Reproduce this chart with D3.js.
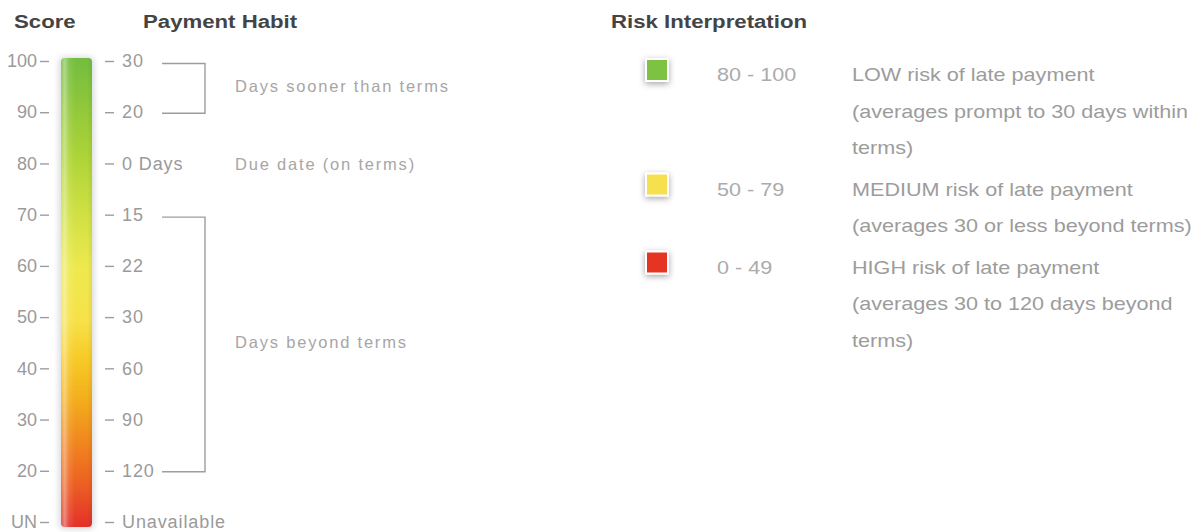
<!DOCTYPE html>
<html>
<head>
<meta charset="utf-8">
<script src="https://cdn.jsdelivr.net/npm/d3@7/dist/d3.min.js"></script>
<style>
  html, body { margin: 0; padding: 0; background: #fff; }
  svg { display: block; font-family: "Liberation Sans", Arial, Helvetica, sans-serif; }
</style>
</head>
<body>
<svg id="chart" width="1202" height="532"></svg>
<script>
// ---------- data ----------
const scoreLabels = ["100", "90", "80", "70", "60", "50", "40", "30", "20", "UN"];
const habitLabels = ["30", "20", "0 Days", "15", "22", "30", "60", "90", "120", "Unavailable"];
// brackets: [start index, end index, label]
const bracketStart = [0, 3];
const bracketEnd = [1, 8];
const bracketText = ["Days sooner than terms", "Days beyond terms"];
const noteIndex = [2];
const noteText = ["Due date (on terms)"];
// gradient stops along the bar: offset (0 = top) and colour
const gradOffsets = [0, 0.09, 0.22, 0.33, 0.45, 0.56, 0.64, 0.73, 0.82, 0.91, 1];
const gradColors = ["#73bd3f", "#8cc63b", "#b0d538", "#cfe043", "#eee94f", "#f6e14a", "#f7cb27", "#f3ad1c", "#f1861f", "#ec5f22", "#e4302a"];
// risk interpretation legend
const riskRanges = ["80 - 100", "50 - 79", "0 - 49"];
const riskColors = ["#7dc242", "#f6e04d", "#e53424"];
const riskLines = [
  ["LOW risk of late payment", "(averages prompt to 30 days within", "terms)"],
  ["MEDIUM risk of late payment", "(averages 30 or less beyond terms)"],
  ["HIGH risk of late payment", "(averages 30 to 120 days beyond", "terms)"]
];
const titles = ["Score", "Payment Habit", "Risk Interpretation"];

// ---------- setup ----------
const svg = d3.select("#chart");
const defs = svg.append("defs");

const y = d3.scalePoint().domain(d3.range(scoreLabels.length)).range([61, 522]);

// titles (slightly wide)
const titleX = [14, 143, 611];
svg.selectAll("text.title").data(titles).join("text")
  .attr("class", "title")
  .attr("transform", (d, i) => `translate(${titleX[i]},28) scale(1.2,1)`)
  .attr("font-size", 18.5)
  .attr("font-weight", "bold")
  .attr("fill", "#444")
  .text(d => d);

// ---------- bar ----------
const vg = defs.append("linearGradient").attr("id", "vgrad")
  .attr("x1", 0).attr("y1", 0).attr("x2", 0).attr("y2", 1);
vg.selectAll("stop").data(gradOffsets).join("stop")
  .attr("offset", d => d)
  .attr("stop-color", (d, i) => gradColors[i]);

const hg = defs.append("linearGradient").attr("id", "hgrad")
  .attr("x1", 0).attr("y1", 0).attr("x2", 1).attr("y2", 0);
[[0, "#fff", 0.15], [0.12, "#fff", 0.4], [0.25, "#fff", 0.12], [0.45, "#fff", 0], [0.85, "#000", 0.0], [1, "#000", 0.06]]
  .forEach(s => hg.append("stop").attr("offset", s[0]).attr("stop-color", s[1]).attr("stop-opacity", s[2]));

const glow = defs.append("filter").attr("id", "glow")
  .attr("x", "-50%").attr("y", "-10%").attr("width", "200%").attr("height", "120%");
glow.append("feGaussianBlur").attr("stdDeviation", 3);

const barX = 61, barW = 31, barTop = y(0) - 3, barBot = y(scoreLabels.length - 1) + 5;
svg.append("rect")
  .attr("x", barX - 2).attr("y", barTop - 1).attr("width", barW + 4).attr("height", barBot - barTop + 3)
  .attr("rx", 5).attr("fill", "#d6d8db").attr("filter", "url(#glow)");
svg.append("rect")
  .attr("x", barX).attr("y", barTop).attr("width", barW).attr("height", barBot - barTop)
  .attr("rx", 4).attr("fill", "url(#vgrad)");
svg.append("rect")
  .attr("x", barX).attr("y", barTop).attr("width", barW).attr("height", barBot - barTop)
  .attr("rx", 4).attr("fill", "url(#hgrad)");

// ---------- axes ----------
const leftAxis = d3.axisLeft(y).tickSize(9).tickPadding(3).tickFormat(i => scoreLabels[i]);
const gl = svg.append("g").attr("transform", "translate(49,0)").call(leftAxis);
const rightAxis = d3.axisRight(y).tickSize(9).tickPadding(8).tickFormat(i => habitLabels[i]);
const gr = svg.append("g").attr("transform", "translate(105,0)").call(rightAxis);
[gl, gr].forEach(g => {
  g.select(".domain").remove();
  g.selectAll(".tick line").attr("stroke", "#9d9d9d").attr("stroke-width", 1.4);
  g.selectAll(".tick text").attr("fill", "#9a9a9a").attr("font-size", 18)
    .attr("font-family", "'Liberation Sans', Arial, sans-serif");
});
gr.selectAll(".tick text").attr("letter-spacing", 0.9);

// ---------- brackets ----------
const bx1 = 162, bx2 = 205, labelX = 235;
svg.selectAll("path.bracket").data(bracketStart).join("path")
  .attr("class", "bracket")
  .attr("d", (s, i) => {
    const y1 = y(s) + 2.5, y2 = y(bracketEnd[i]) + 1;
    return `M${bx1},${y1}H${bx2}V${y2}H${bx1}`;
  })
  .attr("fill", "none").attr("stroke", "#9d9d9d").attr("stroke-width", 1.4);

const noteStyle = sel => sel.attr("font-size", 16.5).attr("letter-spacing", 1.8)
  .attr("fill", "#a6a6a6").attr("dy", "0.35em");
svg.selectAll("text.blabel").data(bracketText).join("text")
  .attr("class", "blabel")
  .attr("x", labelX)
  .attr("y", (d, i) => (y(bracketStart[i]) + y(bracketEnd[i])) / 2)
  .call(noteStyle).text(d => d);
svg.selectAll("text.note").data(noteText).join("text")
  .attr("class", "note")
  .attr("x", labelX)
  .attr("y", (d, i) => y(noteIndex[i]) + 1)
  .call(noteStyle).text(d => d);

// ---------- risk legend ----------
const shadow = defs.append("filter").attr("id", "sqshadow")
  .attr("x", "-60%").attr("y", "-60%").attr("width", "220%").attr("height", "220%");
shadow.append("feDropShadow").attr("dx", 0).attr("dy", 2).attr("stdDeviation", 3)
  .attr("flood-color", "#000").attr("flood-opacity", 0.35);

const lineH = 36.5, rowGap = 5, firstY = 75;
const rowY = [];
let acc = firstY;
riskLines.forEach(lines => { rowY.push(acc); acc += lines.length * lineH + rowGap; });

const rows = svg.selectAll("g.risk").data(riskRanges).join("g")
  .attr("class", "risk")
  .attr("transform", (d, i) => `translate(0,${rowY[i]})`);

rows.append("rect")
  .attr("x", 646).attr("y", -16).attr("width", 22).attr("height", 22)
  .attr("fill", (d, i) => riskColors[i])
  .attr("stroke", "#fff").attr("stroke-width", 2)
  .attr("filter", "url(#sqshadow)");

rows.append("text")
  .attr("transform", "translate(717,0) scale(1.2,1)")
  .attr("dy", "0.35em")
  .attr("font-size", 18).attr("fill", "#ababab")
  .text(d => d);

rows.each(function (d, i) {
  d3.select(this).selectAll("text.desc").data(riskLines[i]).join("text")
    .attr("class", "desc")
    .attr("transform", (t, j) => `translate(852,${j * lineH}) scale(1.2,1)`)
    .attr("dy", "0.35em")
    .attr("font-size", 18).attr("fill", "#9c9c9c")
    .text(t => t);
});
</script>
</body>
</html>
